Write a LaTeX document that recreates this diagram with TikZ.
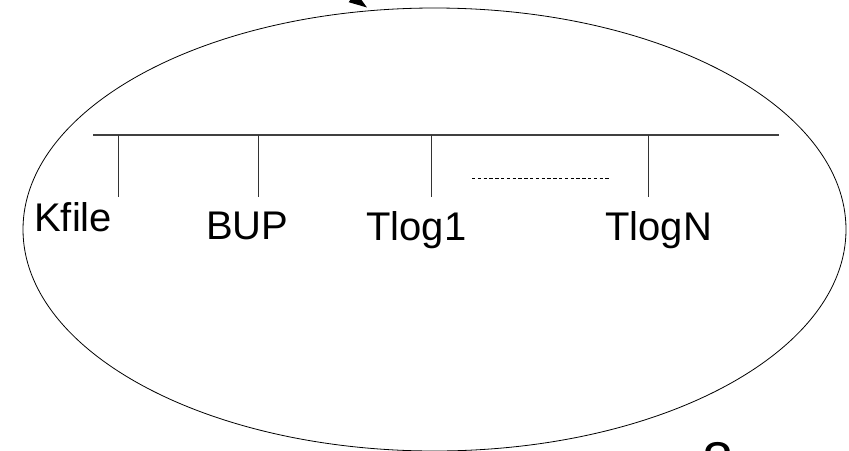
\documentclass[tikz,border=0pt]{standalone}
\usepackage{fontspec}
\setmainfont{Liberation Sans}
\usetikzlibrary{arrows.meta}
\begin{document}
\begin{tikzpicture}[x=1pt,y=-1pt,
  bus/.style={draw=black!75,line width=1.1pt},
  drop/.style={draw=black!80,line width=0.8pt},
  lbl/.style={inner sep=0pt,anchor=base west,font=\fontsize{40}{44}\selectfont},
  gap/.style={draw=black,line width=0.8pt,dash pattern=on 3.3pt off 2.5pt}]
\useasboundingbox (0,0) rectangle (849,450);
% outer region
\draw[black,line width=0.8pt] (434.5,229.5) ellipse [x radius=411.5,y radius=221.5];
% incoming arrow at the top
\coordinate (src) at (325,-22);
\coordinate (tip) at (367,7.5);
\draw[line width=1.2pt,-{Triangle[length=18pt,width=12pt]}] (src) -- (tip);
% bus line with its drops
\coordinate (busL) at (93,135);
\coordinate (busR) at (778.5,135);
\draw[bus] (busL) -- (busR);
\foreach \n/\x in {k/118,b/258,t/431,n/648}{
  \coordinate (top\n) at (\x,135);
  \coordinate (bot\n) at (\x,197);
  \draw[drop] (top\n) -- (bot\n);
}
% labels
\node[lbl] (kfile) at (34,231.7) {Kfile};
\node[lbl] (bup) at (206,239.3) {BUP};
\node[lbl] (tlog1) at (366,240.5) {Tlog1};
\node[lbl] (tlogn) at (605,240.5) {TlogN};
% elided logs
\coordinate (gapL) at (472,178.3);
\coordinate (gapR) at (609,178.3);
\draw[gap] (gapL) -- (gapR);
% page number at the lower edge
\node[inner sep=0pt,anchor=base,font=\fontsize{56}{60}\selectfont] (pg) at (718.5,481) {8};
\end{tikzpicture}
\end{document}
